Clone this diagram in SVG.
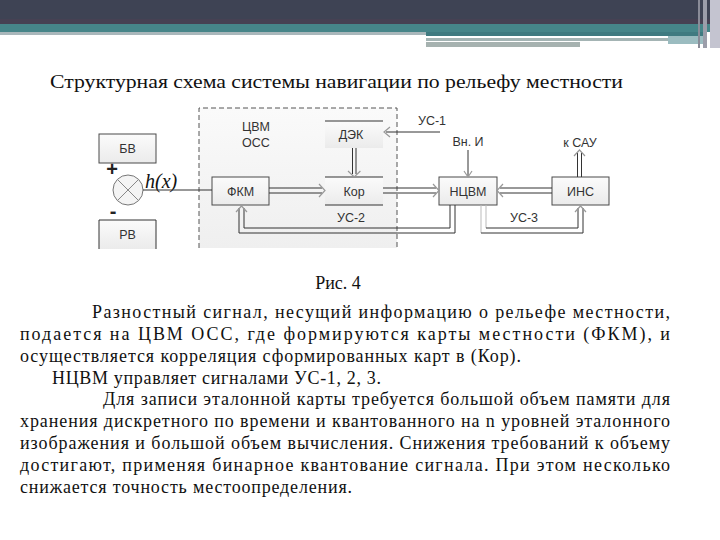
<svg xmlns="http://www.w3.org/2000/svg" width="720" height="540" viewBox="0 0 720 540">
<defs>
<linearGradient id="boxg" x1="0" y1="0" x2="0" y2="1"><stop offset="0" stop-color="#fbfbfb"/><stop offset="1" stop-color="#ebebeb"/></linearGradient>
<linearGradient id="regg" x1="0" y1="0" x2="0" y2="1"><stop offset="0" stop-color="#fafafa"/><stop offset="1" stop-color="#efefef"/></linearGradient>
<style>
.box{fill:url(#boxg);stroke:#4a4a4a;stroke-width:1}
.lbl{font-family:"Liberation Sans","DejaVu Sans",sans-serif;font-size:12.5px;fill:#333;text-anchor:middle}
.ln{fill:none;stroke:#333;stroke-width:1}
.lnf{fill:none;stroke:#bbb;stroke-width:1}
.ah{fill:none;stroke:#999;stroke-width:1.2}
.body{font-family:"Liberation Serif","DejaVu Serif",serif;font-size:18px;fill:#111}
</style>
</defs>
<rect width="720" height="540" fill="#fff"/>
<g id="banner">
<rect x="0" y="0" width="720" height="24" fill="#3e4354"/>
<rect x="0" y="19" width="720" height="5" fill="#464153"/>
<rect x="0" y="24" width="720" height="8" fill="#468589"/>
<rect x="0" y="32" width="426" height="3" fill="#a9b7bb"/>
<rect x="426" y="32" width="280" height="4" fill="#3f7a80"/>
<rect x="426" y="38" width="242" height="3" fill="#a4b4b4"/>
<rect x="426" y="42" width="154" height="5" fill="#a6b2b0"/>
<rect x="668" y="36" width="38" height="8" fill="#9bbcc0"/>
<rect x="698" y="0" width="2" height="48" fill="#8a8c98"/>
<rect x="703" y="0" width="4" height="48" fill="#9c9eaa"/>
<rect x="710" y="0" width="10" height="48" fill="#c4c4d0"/>
</g>
<text x="50" y="88" class="body" font-size="21" textLength="573" lengthAdjust="spacingAndGlyphs">Структурная схема системы навигации по рельефу местности</text>
<g id="region-cvm">
<rect x="199" y="108" width="198" height="140" fill="url(#regg)"/>
<path d="M199,248 V108 H397 V248" fill="none" stroke="#555" stroke-dasharray="5,3"/>
<text x="256" y="131" class="lbl">ЦВМ</text>
<text x="256" y="147" class="lbl">ОСС</text>
</g>
<g id="node-bv"><rect x="99" y="134" width="57" height="29" class="box"/><text x="127.5" y="153" class="lbl">БВ</text></g>
<g id="node-rv"><rect x="99" y="220" width="57" height="29" fill="url(#boxg)"/><path d="M99,249 V220 H156 V249" class="ln" stroke="#4a4a4a"/><text x="127.5" y="239" class="lbl">РВ</text></g>
<g id="node-sum">
<circle cx="128" cy="190" r="15" fill="#f4f4f4" stroke="#777"/>
<path d="M117.4,179.4 L138.6,200.6 M138.6,179.4 L117.4,200.6" stroke="#888" fill="none"/>
<text x="112" y="176" font-family="Liberation Sans,sans-serif" font-size="20" font-weight="bold" fill="#222" text-anchor="middle">+</text>
<text x="113" y="218" font-family="Liberation Sans,sans-serif" font-size="20" font-weight="bold" fill="#222" text-anchor="middle">-</text>
<text x="145" y="188" font-family="Liberation Serif,serif" font-style="italic" font-size="20" fill="#111">h(x)</text>
</g>
<g id="node-fkm"><rect x="212" y="177" width="57" height="28" class="box"/><text x="240.5" y="195.5" class="lbl">ФКМ</text></g>
<g id="node-dek"><rect x="325" y="121" width="58" height="27" fill="url(#boxg)"/><path d="M325,121 H383" class="ln"/><text x="351" y="139" class="lbl">ДЭК</text></g>
<g id="node-kor"><rect x="325" y="177" width="58" height="28" fill="url(#boxg)"/><path d="M325,177 H383 M325,205 H383" class="ln"/><text x="354" y="195.5" class="lbl">Кор</text></g>
<g id="node-ncvm"><rect x="439" y="177" width="58" height="28" class="box"/><text x="468" y="195.5" class="lbl">НЦВМ</text></g>
<g id="node-ins"><rect x="552" y="177" width="57" height="28" class="box"/><text x="580.5" y="195.5" class="lbl">ИНС</text></g>
<g id="connectors">
<path d="M143,190 H212" class="ln"/>
<path d="M269,188 H322 M269,193 H322" class="ln"/><path d="M319,184 L325,190.5 L319,197" class="ah"/>
<path d="M383,188 H436 M383,193 H436" class="ln"/><path d="M433,184 L439,190.5 L433,197" class="ah"/>
<path d="M500,188 H552 M500,193 H552" class="ln"/><path d="M503,184 L497,190.5 L503,197" class="ah"/>
<path d="M352.5,148 V174 M356,148 V174" class="ln"/><path d="M348,171 L354.2,177 L360.4,171" class="ah"/>
<path d="M386,132 H440" class="ln"/><path d="M390,127 L384,132 L390,137" class="ah"/>
<text x="432" y="125" class="lbl">УС-1</text>
<path d="M468,150 V176" class="ln"/><path d="M464,171 L468,177 L472,171" class="ah"/>
<text x="468" y="146" class="lbl">Вн. И</text>
<path d="M577.5,153 V177 M581.5,153 V177" class="ln"/><path d="M574,156 L579.5,150 L585,156" class="ah"/>
<text x="580" y="147" class="lbl">к САУ</text>
<path d="M450,205 V228 H244 V208 M455,205 V233 H239 V208" class="ln"/><path d="M236,212 L241.5,206 L247,212" class="ah"/>
<text x="351" y="222" class="lbl">УС-2</text>
<path d="M486,205 V228 M481,205 V233" class="lnf"/>
<path d="M486,228 H578 V208 M481,233 H583 V208" class="ln"/><path d="M575,212 L580.5,206 L586,212" class="ah"/>
<text x="524" y="222" class="lbl">УС-3</text>
</g>
<g id="text">
<text x="338" y="289" class="body" text-anchor="middle">Рис. 4</text>
<text x="92" y="318" class="body" textLength="578" lengthAdjust="spacing">Разностный сигнал, несущий информацию о рельефе местности,</text>
<text x="20" y="340" class="body" textLength="650" lengthAdjust="spacing">подается на ЦВМ ОСС, где формируются карты местности (ФКМ), и</text>
<text x="20" y="362" class="body" textLength="501" lengthAdjust="spacing">осуществляется корреляция сформированных карт в (Кор).</text>
<text x="52" y="384" class="body" textLength="329" lengthAdjust="spacing">НЦВМ управляет сигналами УС-1, 2, 3.</text>
<text x="103" y="405" class="body" textLength="567" lengthAdjust="spacing">Для записи эталонной карты требуется большой объем памяти для</text>
<text x="20" y="427" class="body" textLength="650" lengthAdjust="spacing">хранения дискретного по времени и квантованного на n уровней эталонного</text>
<text x="20" y="449" class="body" textLength="650" lengthAdjust="spacing">изображения и большой объем вычисления. Снижения требований к объему</text>
<text x="20" y="471" class="body" textLength="650" lengthAdjust="spacing">достигают, применяя бинарное квантование сигнала. При этом несколько</text>
<text x="20" y="493" class="body" textLength="332" lengthAdjust="spacing">снижается точность местоопределения.</text>
</g>
</svg>
